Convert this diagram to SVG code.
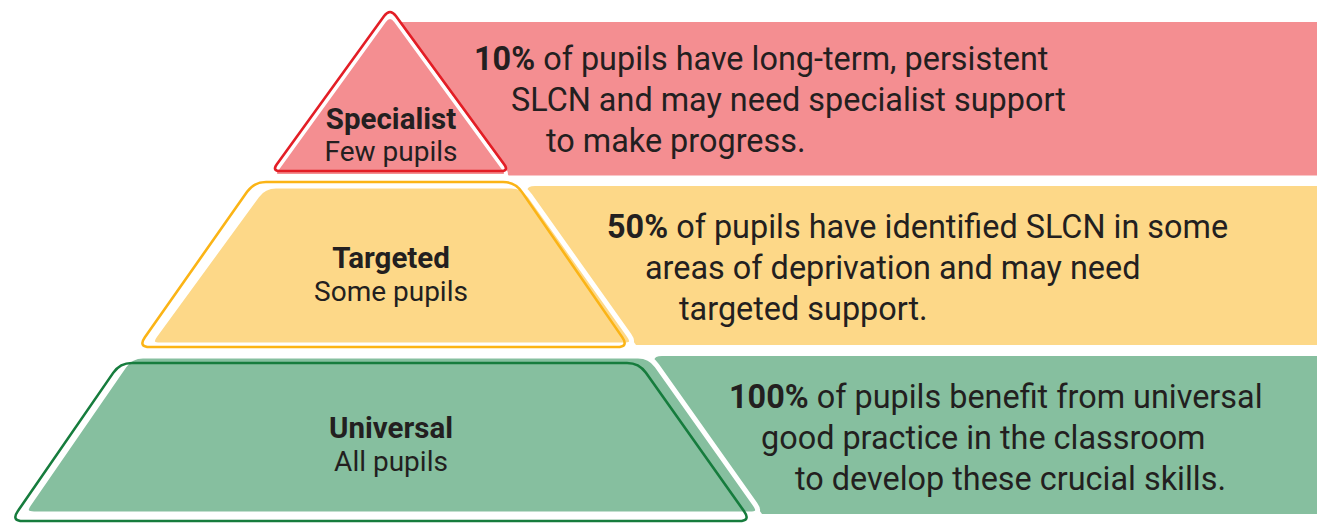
<svg xmlns="http://www.w3.org/2000/svg" width="1317" height="527" viewBox="0 0 1317 527">
<style>
  text { font-family: Roboto, "Liberation Sans", sans-serif; fill: #231f20; }
  .lbl { font-size: 28px; text-anchor: middle; }
  .lbl.b { font-size: 29.5px; }
  .b { font-weight: 700; }
  .desc { font-size: 32.4px; }
  .fillw { stroke: #ffffff; stroke-width: 5; stroke-linejoin: round; }
  .fillr { stroke: #ffffff; stroke-width: 3.8; stroke-linejoin: round; }
  .out { fill: none; stroke-width: 2.6; stroke-linejoin: round; }
  .red { fill: #f48e91; }
  .yel { fill: #fdd888; }
  .grn { fill: #86bf9f; }
</style>
<rect width="1317" height="527" fill="#ffffff"/>
<g id="connectors"/>
<g id="specialist">
  <path class="red" d="M396.6,22 L1317,22 L1317,175.5 L508.6,175.5 Z"/>
  <path class="red fillr" transform="translate(0,5)" d="M384.13,16.10 Q390,8 395.90,16.08 L504.28,164.54 Q509,171 501,171 L280,171 Q272,171 276.69,164.52 Z"/>
  <path class="out" stroke="#e31e26" d="M384.13,16.10 Q390,8 395.90,16.08 L504.28,164.54 Q509,171 501,171 L280,171 Q272,171 276.69,164.52 Z"/>
  <text class="lbl b" x="391" y="129">Specialist</text>
  <text class="lbl" x="391" y="161">Few pupils</text>
  <text class="desc" x="474" y="70"><tspan class="b">10%</tspan> of pupils have long-term, persistent</text>
  <text class="desc" x="511" y="111">SLCN and may need specialist support</text>
  <text class="desc" x="546" y="152">to make progress.</text>
</g>
<g id="targeted">
  <path class="yel" d="M529.95,195.78 Q523,186 535,186 L1317,186 L1317,345 L636,345 Z"/>
  <path class="yel fillw" d="M276,186 L511,186 Q523,186 529.95,195.78 L629.05,335.22 Q636,345 624,345 L160,345 Q148,345 155.07,335.31 L256.93,195.69 Q264,186 276,186 Z"/>
  <path class="out" stroke="#fbb416" d="M266,182 L503,182 Q515,182 521.82,191.87 L622.18,337.13 Q629,347 617,347 L150,347 Q138,347 144.90,337.18 L247.10,191.82 Q254,182 266,182 Z"/>
  <text class="lbl b" x="391" y="268">Targeted</text>
  <text class="lbl" x="391" y="301">Some pupils</text>
  <text class="desc" x="607" y="238"><tspan class="b">50%</tspan> of pupils have identified SLCN in some</text>
  <text class="desc" x="645" y="279">areas of deprivation and may need</text>
  <text class="desc" x="679" y="320">targeted support.</text>
</g>
<g id="universal">
  <path class="grn" d="M656.94,365.79 Q650,356 662,356 L1317,356 L1317,514 L762,514 Z"/>
  <path class="grn fillw" d="M143,356 L638,356 Q650,356 656.94,365.79 L755.06,504.21 Q762,514 750,514 L34,514 Q22,514 28.81,504.12 L124.19,365.88 Q131,356 143,356 Z"/>
  <path class="out" stroke="#167c3d" transform="translate(-11,7)" d="M143,356 L638,356 Q650,356 656.94,365.79 L755.06,504.21 Q762,514 750,514 L34,514 Q22,514 28.81,504.12 L124.19,365.88 Q131,356 143,356 Z"/>
  <text class="lbl b" x="391" y="438">Universal</text>
  <text class="lbl" x="391" y="471">All pupils</text>
  <text class="desc" x="729" y="408"><tspan class="b">100%</tspan> of pupils benefit from universal</text>
  <text class="desc" x="761" y="449">good practice in the classroom</text>
  <text class="desc" x="795" y="490">to develop these crucial skills.</text>
</g>
</svg>
